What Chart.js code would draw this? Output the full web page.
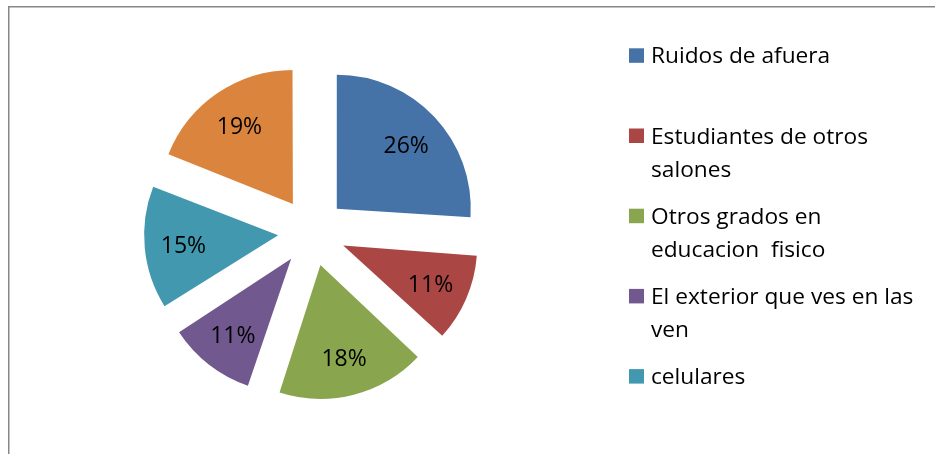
<!DOCTYPE html>
<html lang="es">
<head>
<meta charset="utf-8">
<title>Distracciones en clase</title>
<script src="https://cdn.jsdelivr.net/npm/chart.js@4.4.1/dist/chart.umd.min.js"></script>
<style>
    html, body { margin: 0; padding: 0; background: #fff; }
    #wrap { position: relative; width: 935px; height: 454px; overflow: hidden; }
</style>
</head>
<body>
<div id="wrap"><canvas id="pieChart" width="935" height="454"></canvas></div>
<script>
// datos del grafico
const categories = [
    'Ruidos de afuera',
    'Estudiantes de otros salones',
    'Otros grados en educacion  fisico',
    'El exterior que ves en las ven',
    'celulares',
    'Otros'
];
// la leyenda original solo muestra las cinco primeras entradas
const legendLines = [
    ['Ruidos de afuera'],
    ['Estudiantes de otros', 'salones'],
    ['Otros grados en', 'educacion  fisico'],
    ['El exterior que ves en las', 'ven'],
    ['celulares']
];
const percentages = [26, 11, 18, 11, 15, 19];

const sliceColors = ['#4572A7', '#AA4643', '#89A54E', '#71588F', '#4198AF', '#DB843D'];
const LABEL_FONT = '23px "Open Sans"';
const LEGEND_FONT = '22.7px "Open Sans"';
const EXPLODE = 34; // px que se separa cada porcion
const RADIUS = 134;

// marco gris (solo arriba e izquierda son visibles)
const framePlugin = {
    id: 'frame',
    beforeDraw(chart) {
        const ctx = chart.ctx;
        ctx.save();
        ctx.fillStyle = '#fff';
        ctx.fillRect(0, 0, chart.width, chart.height);
        ctx.strokeStyle = '#878787';
        ctx.lineWidth = 1.5;
        ctx.beginPath();
        ctx.moveTo(8.75, chart.height + 2);
        ctx.lineTo(8.75, 6.75);
        ctx.lineTo(chart.width + 2, 6.75);
        ctx.stroke();
        ctx.restore();
    }
};

// Chart.js agranda las porciones estrechas al separarlas; se compensa
// para que todas conserven el mismo radio
const equalRadiusPlugin = {
    id: 'equalRadius',
    beforeDatasetsDraw(chart) {
        const meta = chart.getDatasetMeta(0);
        meta.data.forEach(arc => {
            const circ = arc.endAngle - arc.startAngle;
            const fix = 1 - Math.sin(Math.min(Math.PI, circ));
            arc.outerRadius = RADIUS - EXPLODE * fix;
        });
    }
};

// porcentajes dentro de cada porcion
const sliceLabelPlugin = {
    id: 'sliceLabels',
    afterDatasetsDraw(chart) {
        const ctx = chart.ctx;
        const meta = chart.getDatasetMeta(0);
        ctx.save();
        ctx.font = LABEL_FONT;
        ctx.fillStyle = '#000';
        ctx.textAlign = 'center';
        ctx.textBaseline = 'alphabetic';
        meta.data.forEach((arc, i) => {
            const mid = (arc.startAngle + arc.endAngle) / 2;
            const dist = EXPLODE + RADIUS * 0.71;
            const x = arc.x + Math.cos(mid) * dist;
            const y = arc.y + Math.sin(mid) * dist;
            ctx.fillText(percentages[i] + '%', x, y + 9);
        });
        ctx.restore();
    }
};

// leyenda a la derecha
const legendPlugin = {
    id: 'sideLegend',
    afterDraw(chart) {
        const ctx = chart.ctx;
        ctx.save();
        ctx.font = LEGEND_FONT;
        ctx.textAlign = 'left';
        ctx.textBaseline = 'alphabetic';
        legendLines.forEach((lines, i) => {
            const base = 63.3 + i * 80.2;
            ctx.fillStyle = sliceColors[i];
            ctx.fillRect(629, base - 15, 15, 14.5);
            ctx.fillStyle = '#000';
            lines.forEach((line, j) => ctx.fillText(line, 651, base + j * 33.5));
        });
        ctx.restore();
    }
};

new Chart(document.getElementById('pieChart'), {
    type: 'pie',
    data: {
        labels: categories,
        datasets: [{
            data: percentages,
            backgroundColor: sliceColors,
            borderWidth: 0,
            offset: EXPLODE * 4, // Chart.js v4 divide el offset entre 4
            hoverOffset: 0
        }]
    },
    options: {
        responsive: false,
        animation: false,
        events: [],
        radius: RADIUS,
        layout: { padding: { left: 0, right: 311, top: 10, bottom: 0 } },
        plugins: {
            legend: { display: false },
            tooltip: { enabled: false }
        }
    },
    plugins: [framePlugin, equalRadiusPlugin, sliceLabelPlugin, legendPlugin]
});
</script>
</body>
</html>
